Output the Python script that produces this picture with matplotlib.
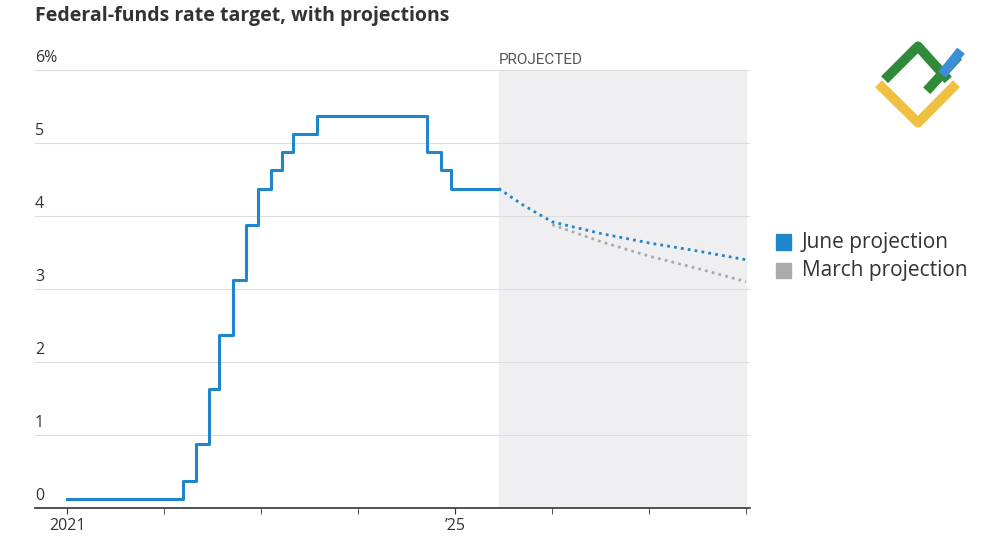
import matplotlib
matplotlib.use("Agg")
import matplotlib.pyplot as plt
from matplotlib.patches import Rectangle
import numpy as np

plt.rcParams['font.family'] = ['Open Sans', 'DejaVu Sans']

# step history (decimal year of change, level)
step_x = [2021.0, 2022.2, 2022.33, 2022.46, 2022.57, 2022.71, 2022.84, 2022.97, 2023.1, 2023.22, 2023.33, 2023.58, 2024.71, 2024.85, 2024.96, 2025.45]
step_y = [0.125, 0.375, 0.875, 1.625, 2.375, 3.125, 3.875, 4.375, 4.625, 4.875, 5.125, 5.375, 4.875, 4.625, 4.375, 4.375]
june_x = [2025.45, 2025.7, 2026.0, 2026.5, 2027.0, 2027.5, 2028.0]
june_y = [4.375, 4.15, 3.92, 3.76, 3.63, 3.52, 3.40]
march_x = [2026.0, 2026.5, 2027.0, 2027.5, 2028.0]
march_y = [3.88, 3.65, 3.45, 3.28, 3.10]
yticks = [0, 1, 2, 3, 4, 5, 6]
ylabels = ['0', '1', '2', '3', '4', '5', '6%']

fig = plt.figure(figsize=(10, 5.45), dpi=100)
ax = fig.add_axes([0.035, 0.068, 0.715, 0.8036])
ax.set_xlim(2020.67, 2028.04)
ax.set_ylim(0, 6.0)

ax.axvspan(2025.45, 2028.0, color='#efeff2', zorder=0)
ax.text(2025.45, 6.04, 'PROJECTED', fontsize=11, color='#555555', ha='left', va='bottom', family=['Roboto', 'DejaVu Sans'])

for t, l in zip(yticks, ylabels):
    if t > 0:
        ax.axhline(t, color='#dddddd', lw=0.8, zorder=1)
    ax.text(2020.67, t + 0.06, l, fontsize=11.5, color='#333333', ha='left', va='bottom')

ax.step(step_x, step_y, where='post', color='#1f86cb', lw=2.2, zorder=3)
ax.plot(march_x, march_y, color='#aaaaaa', lw=2, ls=(0, (1, 1.5)), zorder=2)
ax.plot(june_x, june_y, color='#1f86cb', lw=2, ls=(0, (1, 1.5)), zorder=3)

for s in ['top', 'right', 'left']:
    ax.spines[s].set_visible(False)
ax.spines['bottom'].set_color('#333333')
ax.spines['bottom'].set_linewidth(1.2)
ax.set_yticks([])
ax.set_xticks([2021, 2025])
ax.set_xticklabels(['2021', '\u201925'], fontsize=11.5, color='#333333')
ax.set_xticks(np.arange(2021, 2029, 1), minor=True)
ax.tick_params(axis='x', which='both', length=4, color='#333333')

fig.text(0.035, 0.97, 'Federal-funds rate target, with projections', fontsize=14, fontweight='bold', color='#333333', ha='left', va='center')

for y, c, l in [(0.555, '#1f86cb', 'June projection'), (0.503, '#aaaaaa', 'March projection')]:
    fig.patches.append(Rectangle((0.776, y - 0.013), 0.015, 0.028, color=c, transform=fig.transFigure))
    fig.text(0.802, y, l, fontsize=15, color='#333333', ha='left', va='center')

# logo
fig.lines.append(plt.Line2D([0.882, 0.918, 0.953], [0.84, 0.775, 0.84], color='#f0c040', lw=7, transform=fig.transFigure))
fig.lines.append(plt.Line2D([0.888, 0.918, 0.945], [0.86, 0.915, 0.86], color='#2f8a3a', lw=7, transform=fig.transFigure))
fig.lines.append(plt.Line2D([0.93, 0.955], [0.84, 0.89], color='#2f8a3a', lw=7, transform=fig.transFigure))
fig.lines.append(plt.Line2D([0.945, 0.958], [0.87, 0.9], color='#3a8fd8', lw=7, transform=fig.transFigure))

fig.savefig('out.png', dpi=100)
